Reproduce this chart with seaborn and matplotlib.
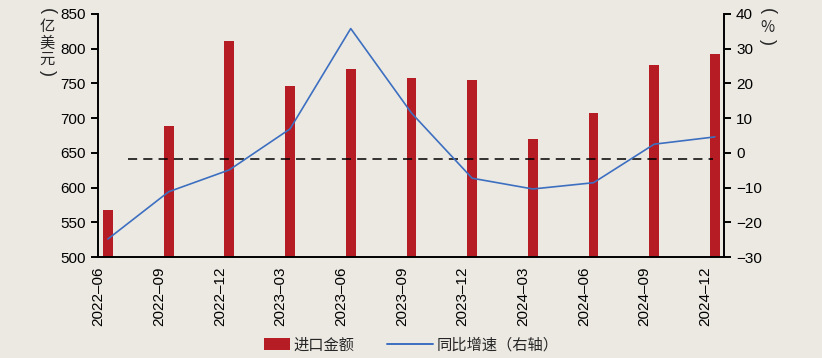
import numpy as np
import pandas as pd
import matplotlib
matplotlib.use("Agg")
import matplotlib.pyplot as plt
import seaborn as sns
from matplotlib.patches import Patch, Rectangle
from matplotlib.lines import Line2D
from matplotlib.legend_handler import HandlerPatch

# data
periods = ["2022-06", "2022-09", "2022-12", "2023-03", "2023-06", "2023-09",
           "2023-12", "2024-03", "2024-06", "2024-09", "2024-12"]
imports = [568, 689, 811, 746, 771, 758, 755, 670, 707, 776, 792]   # 亿美元
yoy = [-24.8, -11.2, -4.9, 6.9, 35.8, 11.5, -7.3, -10.4, -8.6, 2.5, 4.6]  # %
ref_level = -1.8   # dashed reference line, right axis

bg = "#ECE9E3"
bar_color = "#B51C24"
line_color = "#3D6FC0"

sns.set_style("white")
plt.rcParams["font.family"] = ["Liberation Sans", "Noto Sans CJK SC"]
plt.rcParams["axes.unicode_minus"] = True

df = pd.DataFrame({"period": periods, "imports": imports, "yoy": yoy})
df["pos"] = np.arange(len(df)) + 0.157

fig = plt.figure(figsize=(8.22, 3.58), dpi=100, facecolor=bg)
ax = fig.add_axes([0.119, 0.282, 0.762, 0.679])
ax.set_facecolor(bg)

sns.barplot(data=df, x="pos", y="imports", native_scale=True, width=0.16,
            color=bar_color, saturation=1, edgecolor="none", linewidth=0,
            ax=ax, zorder=2)

ax2 = ax.twinx()
ax2.patch.set_visible(False)
sns.lineplot(data=df, x="pos", y="yoy", color=line_color, lw=1.2, ax=ax2, zorder=3)
ax2.hlines(ref_level, 0.48, 10.12, colors="black", linestyles=(0, (6, 4)), lw=1.1, zorder=2)

ax.set_xlim(-0.01, 10.31)
ax.set_ylim(500, 850)
ax.set_yticks(np.arange(500, 851, 50))
ax2.set_ylim(-30, 40)
ax2.set_yticks(np.arange(-30, 41, 10))
ax.set_xticks(np.arange(len(periods)))
ax.set_xticklabels([p.replace("-", "\u2013") for p in periods], rotation=90)

for a in (ax, ax2):
    a.set_xlabel("")
    a.set_ylabel("")
    a.spines["top"].set_visible(False)
    for s in a.spines.values():
        s.set_linewidth(1.4)
        s.set_color("black")
    a.tick_params(direction="out", length=5, width=1.4, labelsize=11, colors="black")
ax.spines["right"].set_visible(False)
ax2.spines["left"].set_visible(False)
ax2.spines["bottom"].set_visible(False)
ax.tick_params(axis="x", pad=2)

# vertical unit labels: upright characters, parentheses turned sideways
def vlabel(x_px, parts):
    for txt, y_px, rot in parts:
        fam = ["Liberation Sans"] if txt in "()" else ["Noto Sans CJK SC"]
        size = 13 if txt in "()" else 11
        fig.text(x_px / 822, 1 - y_px / 358, txt, ha="center", va="center",
                 rotation=rot, rotation_mode="anchor", fontsize=size, family=fam)

vlabel(47, [("(", 11, -90), ("亿", 26, 0), ("美", 43, 0), ("元", 59, 0), (")", 73, -90)])
vlabel(767, [("(", 11, -90), ("%", 27, 0), (")", 42, -90)])


class ShortPatch(HandlerPatch):
    def create_artists(self, legend, orig_handle, xdescent, ydescent, width,
                       height, fontsize, trans):
        w = width * 0.57
        h = height * 1.1
        r = Rectangle((width - w - xdescent, -ydescent + (height - h) / 2), w, h,
                      facecolor=orig_handle.get_facecolor(), edgecolor="none",
                      transform=trans)
        return [r]


handles = [Patch(facecolor=bar_color, edgecolor="none"),
           Line2D([0], [0], color=line_color, lw=1.4)]
fig.legend(handles, ["进口金额", "同比增速（右轴）"], loc="center",
           bbox_to_anchor=(0.488, 0.036), ncol=2, frameon=False, fontsize=11,
           handlelength=3.0, handleheight=0.7, columnspacing=2.1,
           handletextpad=0.25, handler_map={Patch: ShortPatch()})

fig.savefig("out.png", dpi=100, facecolor=bg)
